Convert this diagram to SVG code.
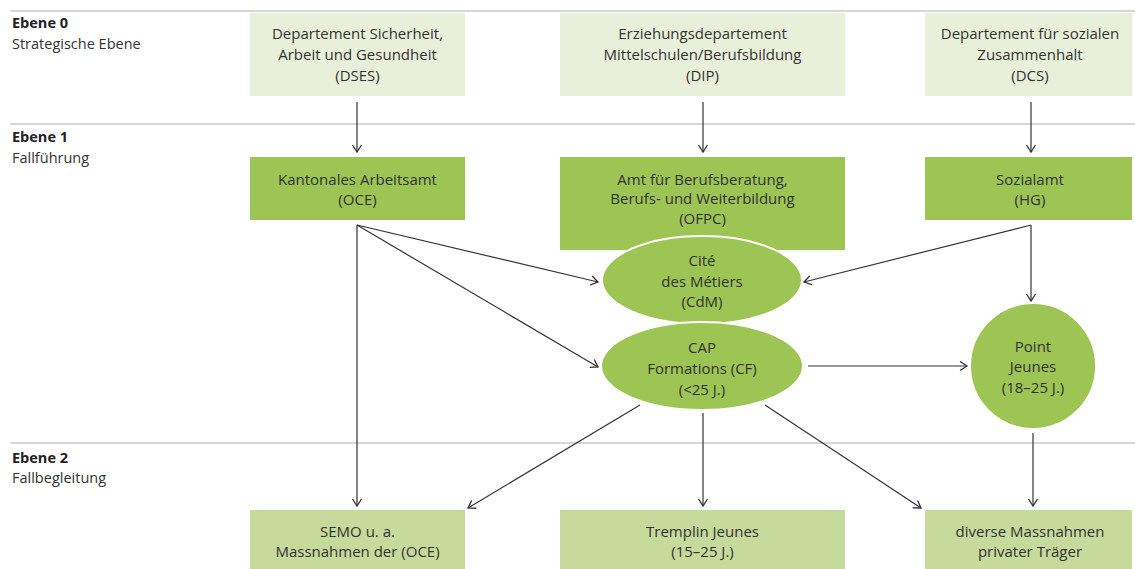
<svg xmlns="http://www.w3.org/2000/svg" width="1135" height="569" viewBox="0 0 1135 569">
<defs>
<marker id="ah" markerWidth="12" markerHeight="12" refX="10" refY="6" orient="auto" markerUnits="userSpaceOnUse">
<path d="M3,1.5 L10,6 L3,10.5" fill="none" stroke="#333" stroke-width="1.3"/>
</marker>
<style>
.t{font-family:"Open Sans","Liberation Sans",sans-serif;font-size:15px;fill:#333;text-anchor:middle}
.lb{font-family:"Open Sans","Liberation Sans",sans-serif;font-size:14.5px;fill:#333}
.lbb{font-family:"Open Sans","Liberation Sans",sans-serif;font-size:14.5px;fill:#222;font-weight:bold}
.sep{stroke:#d6d6d6;stroke-width:2}
.b0{fill:#e9f0da}
.b1{fill:#9cc553}
.b2{fill:#c6da9b}
.e{fill:#9cc553;stroke:#fff;stroke-width:2}
.c{fill:none;stroke:#333;stroke-width:1.2;marker-end:url(#ah)}
</style>
</defs>
<g id="levels">
<line class="sep" x1="10" y1="11" x2="1135" y2="11"/>
<line class="sep" x1="10" y1="124" x2="1135" y2="124"/>
<line class="sep" x1="10" y1="443" x2="1135" y2="443"/>
<text class="lbb" x="12" y="28">Ebene 0</text>
<text class="lb" x="12" y="49">Strategische Ebene</text>
<text class="lbb" x="12" y="142">Ebene 1</text>
<text class="lb" x="12" y="163">Fallführung</text>
<text class="lbb" x="12" y="463">Ebene 2</text>
<text class="lb" x="12" y="483">Fallbegleitung</text>
</g>
<g id="connectors">
<line class="c" x1="357" y1="102" x2="357" y2="152"/>
<line class="c" x1="703" y1="102" x2="703" y2="152"/>
<line class="c" x1="1031" y1="102" x2="1031" y2="152"/>
<line class="c" x1="357" y1="225" x2="598" y2="282"/>
<line class="c" x1="357" y1="225" x2="598" y2="367"/>
<line class="c" x1="357" y1="225" x2="357" y2="506"/>
<line class="c" x1="1031" y1="225" x2="804" y2="282"/>
<line class="c" x1="1031" y1="225" x2="1031" y2="301"/>
<line class="c" x1="808" y1="366" x2="967" y2="366"/>
<line class="c" x1="640" y1="405" x2="468" y2="508"/>
<line class="c" x1="703" y1="413" x2="703" y2="506"/>
<line class="c" x1="765" y1="405" x2="921" y2="508"/>
<line class="c" x1="1033" y1="433" x2="1033" y2="506"/>
</g>
<g id="dses">
<rect class="b0" x="250" y="13" width="215" height="83"/>
<text class="t" x="357.5" y="39">Departement Sicherheit,</text>
<text class="t" x="357.5" y="60">Arbeit und Gesundheit</text>
<text class="t" x="357.5" y="81">(DSES)</text>
</g>
<g id="dip">
<rect class="b0" x="560" y="13" width="285" height="83"/>
<text class="t" x="702.5" y="39">Erziehungsdepartement</text>
<text class="t" x="702.5" y="60">Mittelschulen/Berufsbildung</text>
<text class="t" x="702.5" y="81">(DIP)</text>
</g>
<g id="dcs">
<rect class="b0" x="925" y="13" width="207" height="83"/>
<text class="t" x="1030" y="39">Departement für sozialen</text>
<text class="t" x="1030" y="60">Zusammenhalt</text>
<text class="t" x="1030" y="81">(DCS)</text>
</g>
<g id="oce">
<rect class="b1" x="250" y="157" width="215" height="63"/>
<text class="t" x="357.5" y="185">Kantonales Arbeitsamt</text>
<text class="t" x="357.5" y="205">(OCE)</text>
</g>
<g id="ofpc">
<rect class="b1" x="560" y="157" width="285" height="93"/>
<text class="t" x="702.5" y="185">Amt für Berufsberatung,</text>
<text class="t" x="702.5" y="204">Berufs- und Weiterbildung</text>
<text class="t" x="702.5" y="224">(OFPC)</text>
</g>
<g id="hg">
<rect class="b1" x="925" y="157" width="207" height="63"/>
<text class="t" x="1030" y="185">Sozialamt</text>
<text class="t" x="1030" y="205">(HG)</text>
</g>
<g id="cdm">
<ellipse class="e" cx="702" cy="280" rx="100" ry="44"/>
<text class="t" x="702" y="266">Cité</text>
<text class="t" x="702" y="287">des Métiers</text>
<text class="t" x="702" y="307">(CdM)</text>
</g>
<g id="cf">
<ellipse class="e" cx="702" cy="366" rx="101" ry="44"/>
<text class="t" x="702" y="353">CAP</text>
<text class="t" x="702" y="374">Formations (CF)</text>
<text class="t" x="702" y="395">(&lt;25 J.)</text>
</g>
<g id="pointjeunes">
<circle class="e" cx="1033" cy="366" r="63"/>
<text class="t" x="1033" y="352">Point</text>
<text class="t" x="1033" y="372">Jeunes</text>
<text class="t" x="1033" y="393">(18–25 J.)</text>
</g>
<g id="semo">
<rect class="b2" x="250" y="510" width="215" height="59"/>
<text class="t" x="357.5" y="537">SEMO u. a.</text>
<text class="t" x="357.5" y="557">Massnahmen der (OCE)</text>
</g>
<g id="tremplin">
<rect class="b2" x="560" y="510" width="285" height="59"/>
<text class="t" x="702.5" y="537">Tremplin Jeunes</text>
<text class="t" x="702.5" y="557">(15–25 J.)</text>
</g>
<g id="diverse">
<rect class="b2" x="925" y="510" width="207" height="59"/>
<text class="t" x="1030" y="537">diverse Massnahmen</text>
<text class="t" x="1030" y="557">privater Träger</text>
</g>
</svg>
